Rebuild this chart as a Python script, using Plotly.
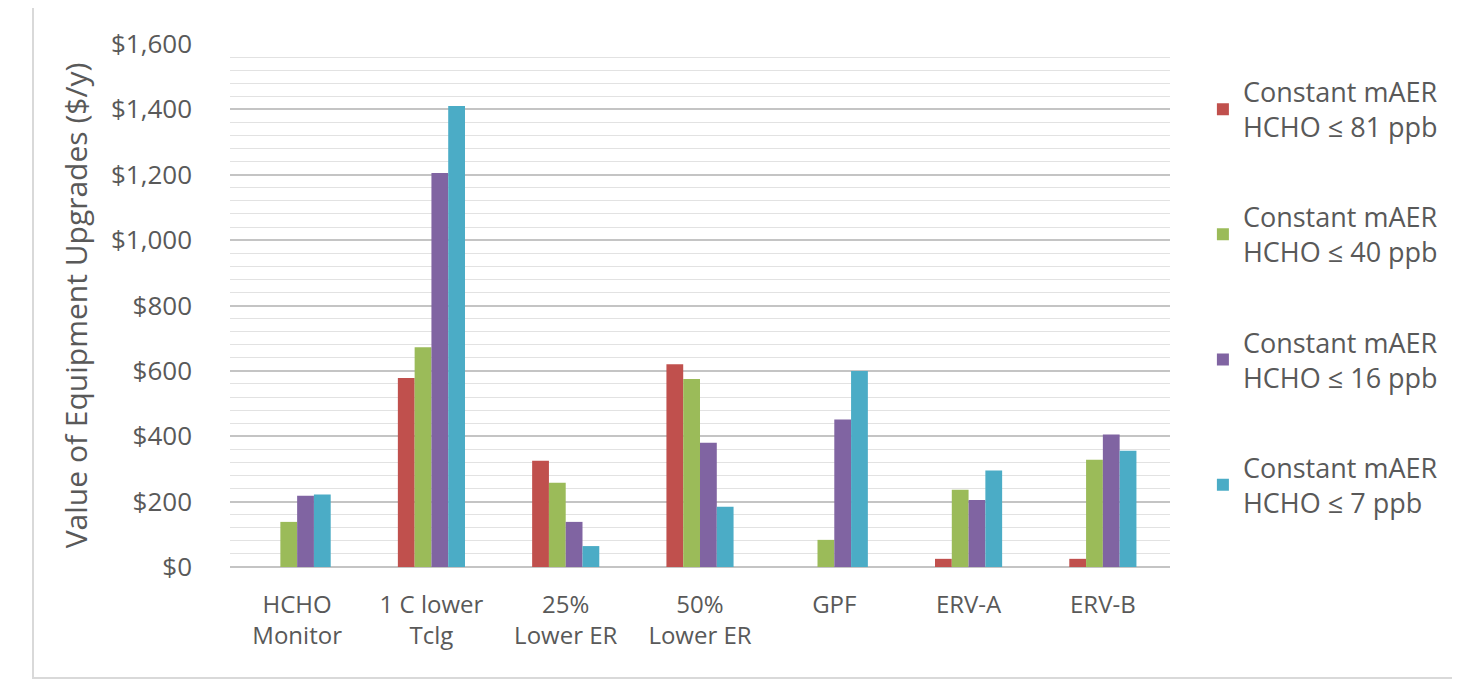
import plotly.graph_objects as go

categories = ["HCHO<br>Monitor", "1 C lower<br>Tclg", "25%<br>Lower ER", "50%<br>Lower ER", "GPF", "ERV-A", "ERV-B"]
series_names = [
    "Constant mAER<br>HCHO ≤ 81 ppb",
    "Constant mAER<br>HCHO ≤ 40 ppb",
    "Constant mAER<br>HCHO ≤ 16 ppb",
    "Constant mAER<br>HCHO ≤ 7 ppb",
]
hcho_81 = [0, 578, 325, 620, 0, 25, 25]
hcho_40 = [138, 672, 258, 575, 83, 236, 328]
hcho_16 = [218, 1205, 138, 380, 451, 205, 405]
hcho_7 = [222, 1410, 64, 184, 600, 295, 356]
colors = ["#C0504D", "#9BBB59", "#8064A2", "#4BACC6"]

FONT = "Open Sans"
TXT = "#595959"

# plot area in page pixels (page has 8px body margin)
L, T, PW, PH = 222, 36, 940, 523

fig = go.Figure()
for i, (name, vals) in enumerate(zip(series_names, [hcho_81, hcho_40, hcho_16, hcho_7])):
    fig.add_trace(go.Bar(x=categories, y=vals, name=name, marker_color=colors[i],
                         marker_line_width=0, legendgroup=f"g{i}"))

fig.update_layout(
    width=1452, height=674,
    margin=dict(l=L, r=1452 - L - PW, t=T, b=674 - T - PH),
    paper_bgcolor="white", plot_bgcolor="white",
    barmode="group", bargap=0.5, bargroupgap=0,
    font=dict(family=FONT, size=25, color=TXT),
    showlegend=True,
    legend=dict(x=1.035, y=0.955, xanchor="left", yanchor="top",
                bgcolor="rgba(0,0,0,0)", tracegroupgap=52,
                font=dict(family=FONT, size=27, color=TXT)),
    xaxis=dict(showgrid=False, showline=False, ticks="", ticklabelstandoff=21,
               tickfont=dict(size=24, color=TXT)),
    yaxis=dict(range=[0, 1600], dtick=200, tickprefix="$", tickformat=",",
               showgrid=True, gridcolor="#c4c4c4", gridwidth=1.5,
               zeroline=True, zerolinecolor="#c4c4c4", zerolinewidth=1.5,
               minor=dict(dtick=40, showgrid=True, gridcolor="#e2e2e2", gridwidth=1),
               ticklabelstandoff=37, tickfont=dict(size=26, color=TXT),
               title=dict(text="Value of Equipment Upgrades ($/y)", standoff=14,
                          font=dict(size=30, color=TXT))),
)

fig.add_shape(type="rect", xref="paper", yref="paper",
              x0=(33 - 230) / PW, x1=(1457 - 230) / PW,
              y0=(567 - 678) / PH, y1=(567 - 5) / PH,
              line=dict(color="#d9d9d9", width=2), fillcolor="rgba(0,0,0,0)", layer="below")

fig.write_html("out.html")
